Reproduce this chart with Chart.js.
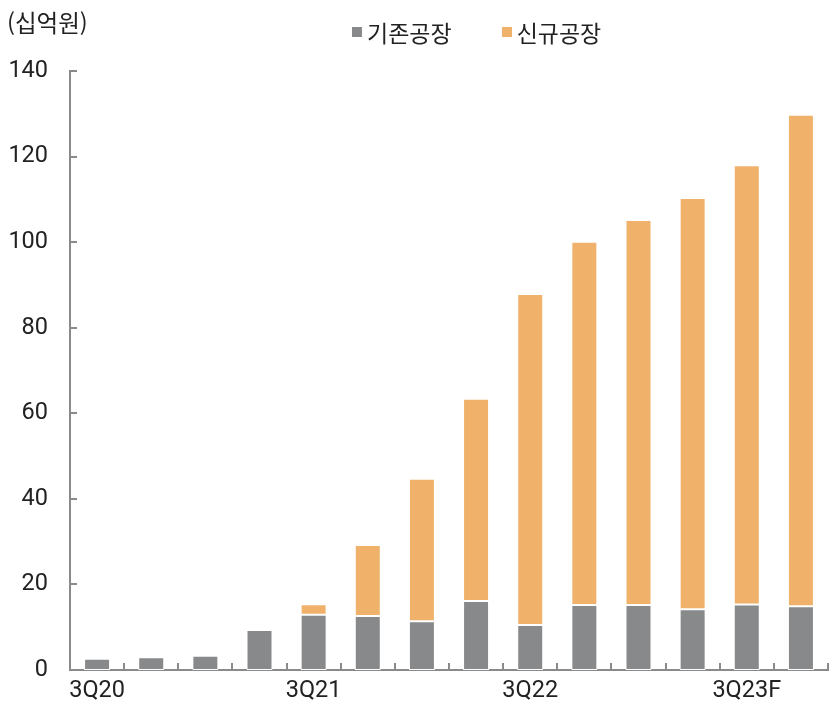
<!DOCTYPE html>
<html lang="ko">
<head>
<meta charset="utf-8">
<script src="https://cdn.jsdelivr.net/npm/chart.js@4"></script>
<style>
  html, body { margin: 0; padding: 0; background: #fff; }
  #wrap { position: relative; width: 833px; height: 708px; }
  #unit {
    position: absolute; left: 7px; top: 5px;
    font: 23.5px 'Noto Sans CJK KR', Roboto, sans-serif; color: #222;
  }
  #legend {
    position: absolute; left: 352px; top: 15px;
    font: 23px 'Noto Sans CJK KR', Roboto, sans-serif; color: #222;
    display: flex; align-items: center;
  }
  .lg-item { display: flex; align-items: center; margin-right: 50px; }
  .lg-box  { width: 10px; height: 10px; margin-right: 5px; }
</style>
</head>
<body>
<div id="wrap">
  <canvas id="chart"></canvas>
  <div id="unit">(십억원)</div>
  <div id="legend"></div>
</div>
<script>
/* ─── DATA ────────────────────────────────────────────────── */
const quarters   = ['3Q20', '4Q20', '1Q21', '2Q21', '3Q21', '4Q21', '1Q22',
                    '2Q22', '3Q22', '4Q22', '1Q23', '2Q23', '3Q23F', '4Q23F'];
const shownTicks = ['3Q20', '3Q21', '3Q22', '3Q23F'];
const existing   = [2.65, 3.0, 3.35, 9.35, 12.9, 12.6, 11.4, 16.1, 10.5, 15.2, 15.2, 14.2, 15.3, 14.9];
const newPlant   = [0, 0, 0, 0, 2.45, 16.6, 33.3, 47.3, 77.4, 84.9, 90.0, 96.1, 102.7, 114.9];
const seriesNames = ['기존공장', '신규공장'];
const yTicks     = [0, 20, 40, 60, 80, 100, 120, 140];

/* ─── STYLE ───────────────────────────────────────────────── */
const GRAY   = '#87898b';
const ORANGE = '#f0b26b';
const AXIS   = '#8a8a8a';
const FONT   = "Roboto, 'Noto Sans CJK KR', sans-serif";

/* ─── LEGEND (html) ───────────────────────────────────────── */
const legendEl = document.getElementById('legend');
[GRAY, ORANGE].forEach((c, i) => {
  const item = document.createElement('div');
  item.className = 'lg-item';
  item.innerHTML = `<span class="lg-box" style="background:${c}"></span><span>${seriesNames[i]}</span>`;
  legendEl.appendChild(item);
});

/* ─── INNER TICK MARKS ────────────────────────────────────── */
const innerTicks = {
  id: 'innerTicks',
  afterDraw(chart) {
    const { ctx, chartArea } = chart;
    const x = chart.scales.x, y = chart.scales.y;
    ctx.save();
    ctx.strokeStyle = AXIS;
    ctx.lineWidth = 2;
    ctx.beginPath();
    yTicks.forEach(v => {
      const py = Math.round(y.getPixelForValue(v));
      ctx.moveTo(chartArea.left, py);
      ctx.lineTo(chartArea.left + 7, py);
    });
    for (let i = 0; i < quarters.length; i++) {
      const px = i < quarters.length - 1
        ? (x.getPixelForValue(i) + x.getPixelForValue(i + 1)) / 2
        : chartArea.right;
      ctx.moveTo(Math.round(px), chartArea.bottom);
      ctx.lineTo(Math.round(px), chartArea.bottom - 7);
    }
    ctx.stroke();
    ctx.restore();
  },
};

/* ─── CHART ───────────────────────────────────────────────── */
new Chart(document.getElementById('chart'), {
  type: 'bar',
  data: {
    labels: quarters,
    datasets: [
      { label: seriesNames[0], data: existing, backgroundColor: GRAY,
        borderColor: '#ffffff', borderWidth: 1, borderSkipped: false },
      { label: seriesNames[1], data: newPlant, backgroundColor: ORANGE,
        borderColor: '#ffffff', borderWidth: 1, borderSkipped: false },
    ],
  },
  options: {
    responsive: true,
    maintainAspectRatio: false,
    animation: false,
    layout: { padding: { top: 71, right: 5, left: 0, bottom: 0 } },
    datasets: { bar: { barPercentage: 0.48, categoryPercentage: 1 } },
    plugins: { legend: { display: false }, tooltip: { enabled: false } },
    scales: {
      x: {
        stacked: true,
        grid: { display: false, drawTicks: false },
        border: { color: AXIS, width: 2 },
        afterFit: s => { s.height = 38; },
        ticks: {
          autoSkip: false, maxRotation: 0, padding: 7,
          color: '#222', font: { family: FONT, size: 23.5 },
          callback: (v, i) => shownTicks.includes(quarters[i]) ? quarters[i] : '',
        },
      },
      y: {
        stacked: true,
        min: 0, max: 140,
        grid: { display: false, drawTicks: false },
        border: { color: AXIS, width: 2 },
        afterFit: s => { s.width = 70; },
        afterBuildTicks: s => { s.ticks = yTicks.map(v => ({ value: v })); },
        ticks: { padding: 22, color: '#222', font: { family: FONT, size: 23.5 } },
      },
    },
  },
  plugins: [innerTicks],
});
</script>
</body>
</html>
